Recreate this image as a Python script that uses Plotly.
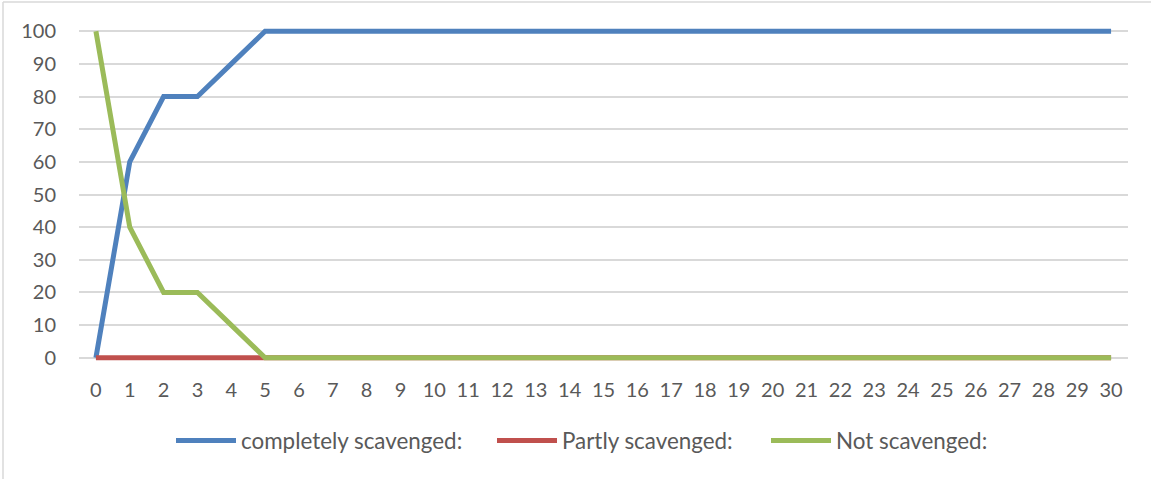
import plotly.graph_objects as go

days = list(range(0, 31))
completely = [0, 60, 80, 80, 90, 100] + [100] * 25
partly = [0] * 31
not_scav = [100, 40, 20, 20, 10, 0] + [0] * 25
y_ticks = list(range(0, 101, 10))

series = [
    ("completely scavenged:", completely, "#4F81BD", "legend"),
    ("Partly scavenged:", partly, "#C0504D", "legend2"),
    ("Not scavenged:", not_scav, "#9BBB59", "legend3"),
]

fig = go.Figure()
for name, vals, col, lg in series:
    fig.add_trace(go.Scatter(x=days, y=vals, mode="lines", name=name, legend=lg,
                             line=dict(color=col, width=5), cliponaxis=False))

W, H = 1151, 479
L, R, T, B = 79, 23, 28, 118
pw, ph = W - L - R, H - T - B
Y0, Y1 = -1, 101


def ypx_to_paper(py):
    # pixel y (from top) -> paper fraction
    return (H - B - py) / ph


def leg(px):
    return dict(orientation="h", x=(px - L) / pw, xanchor="left",
                y=ypx_to_paper(441), yanchor="middle",
                font=dict(size=22.4, color="#595959", family="Lato, Open Sans, sans-serif"),
                itemwidth=60, bgcolor="rgba(0,0,0,0)", borderwidth=0)


fig.update_layout(
    width=W, height=H,
    margin=dict(l=L, r=R, t=T, b=B, pad=0, autoexpand=False),
    paper_bgcolor="white", plot_bgcolor="white",
    font=dict(family="Lato, Open Sans, sans-serif", size=20, color="#595959"),
    xaxis=dict(range=[-0.5, 30.5], tickmode="array", tickvals=days,
               ticktext=[str(d) for d in days], showgrid=False, zeroline=False,
               showline=False, ticks="", ticklabelstandoff=15,
               tickfont=dict(size=20, color="#595959")),
    yaxis=dict(range=[Y0, Y1], tickmode="array", tickvals=y_ticks,
               showgrid=True, gridcolor="#D9D9D9", gridwidth=1.5,
               zeroline=False, showline=False, ticks="", ticklabelstandoff=22,
               tickfont=dict(size=20, color="#595959")),
    legend=leg(171),
    legend2=leg(492),
    legend3=leg(766),
    showlegend=True,
)

# chart border (top and left)
fig.add_shape(type="line", xref="paper", yref="paper",
              x0=-(L - 3) / pw, x1=1 + R / pw, y0=ypx_to_paper(2), y1=ypx_to_paper(2),
              line=dict(color="#D9D9D9", width=1.5))
fig.add_shape(type="line", xref="paper", yref="paper",
              x0=-(L - 3) / pw, x1=-(L - 3) / pw, y0=-B / ph, y1=ypx_to_paper(2),
              line=dict(color="#D9D9D9", width=1.5))

fig.write_html("out.html", config={"displayModeBar": False},
               post_script="document.body.style.margin='0';document.body.style.padding='0';")
